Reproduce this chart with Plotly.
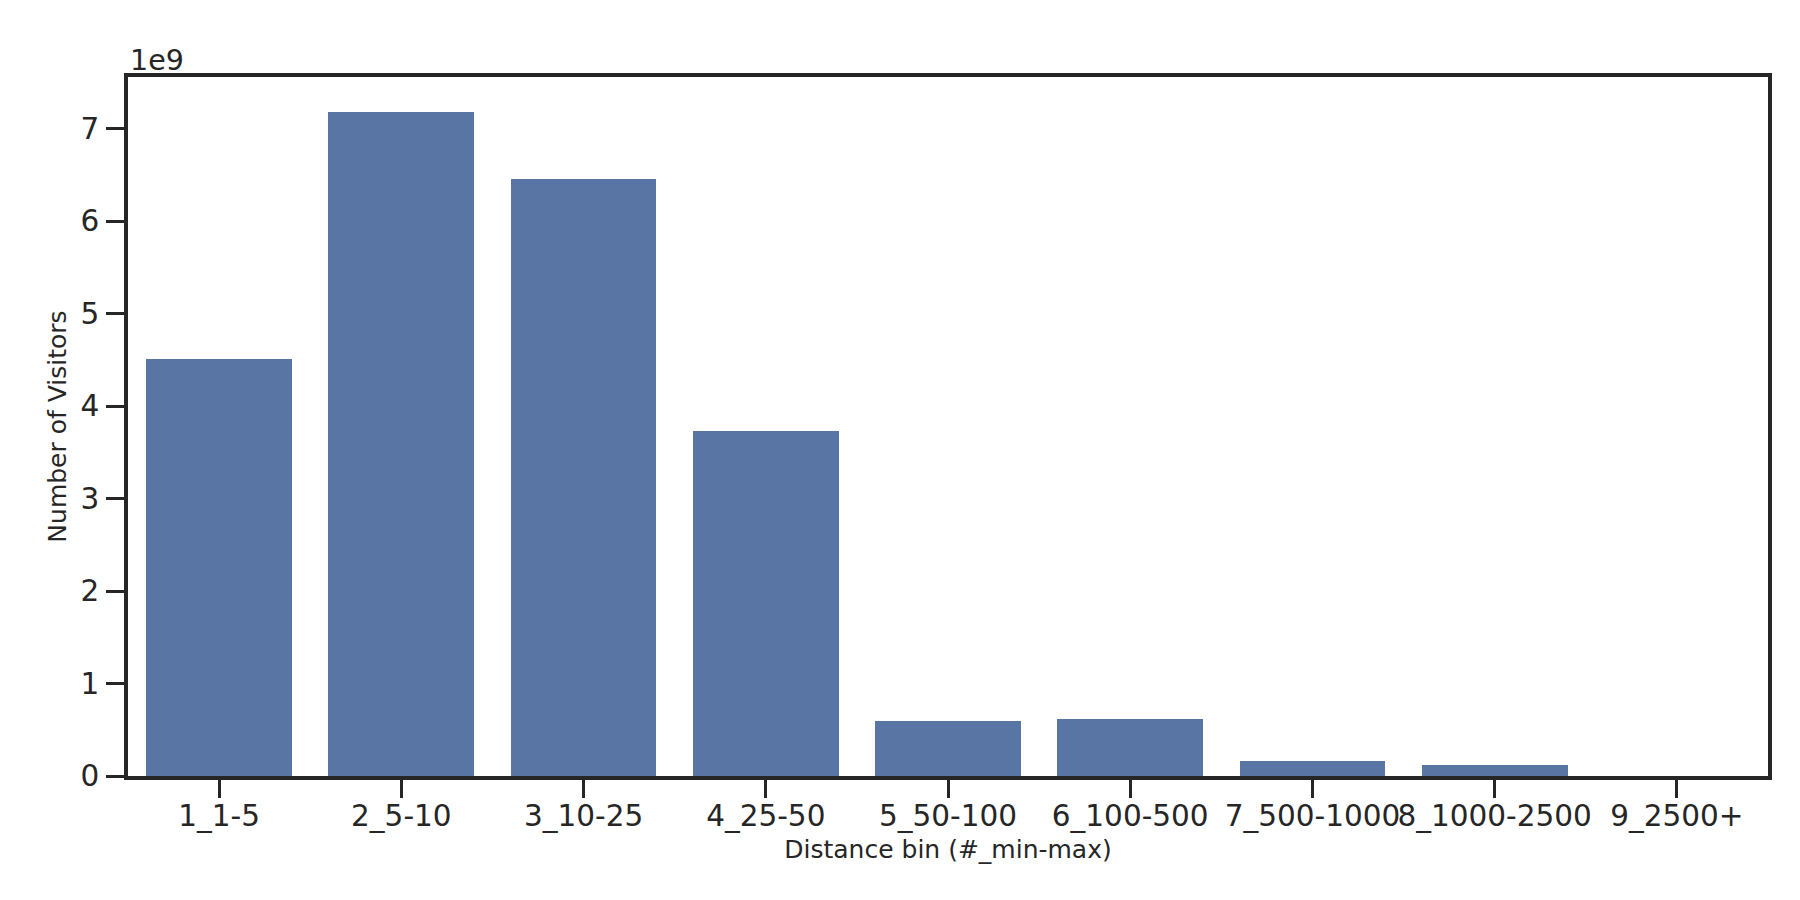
import plotly.graph_objects as go

# distance bins and visitor counts
bins = ["1_1-5", "2_5-10", "3_10-25", "4_25-50", "5_50-100",
        "6_100-500", "7_500-1000", "8_1000-2500", "9_2500+"]
visitors = [4.507e9, 7.183e9, 6.457e9, 3.727e9, 0.595e9,
            0.618e9, 0.163e9, 0.115e9, 0.0]

y_ticks = [0, 1e9, 2e9, 3e9, 4e9, 5e9, 6e9, 7e9]
y_tick_text = ["0", "1", "2", "3", "4", "5", "6", "7"]

INK = "#262626"
FONT = "DejaVu Sans"

fig = go.Figure()
fig.add_trace(go.Bar(
    x=list(range(len(bins))), y=visitors,
    width=0.8, marker_color="#5975a4", marker_line_width=0,
))

axis_common = dict(
    showline=True, linecolor=INK, linewidth=3.5, mirror=True,
    ticks="outside", ticklen=18, tickwidth=3, tickcolor=INK,
    showgrid=False, zeroline=False, automargin=False,
    tickfont=dict(family=FONT, size=29.5, color=INK),
)

fig.update_xaxes(
    range=[-0.5, 8.5], tickangle=0, ticklabelstandoff=-7,
    tickvals=list(range(len(bins))), ticktext=bins,
    title=dict(text="Distance bin (#_min-max)", standoff=9,
               font=dict(family=FONT, size=25, color=INK)),
    **axis_common,
)
fig.update_yaxes(
    range=[0, 7.557e9], ticklabelstandoff=1,
    tickvals=y_ticks, ticktext=y_tick_text,
    title=dict(text="Number of Visitors", standoff=8,
               font=dict(family=FONT, size=25, color=INK)),
    **axis_common,
)

# matplotlib-style offset text
fig.add_annotation(
    text="1e9", xref="paper", yref="paper", x=0, y=1,
    xanchor="left", yanchor="bottom", showarrow=False, yshift=-2,
    font=dict(family=FONT, size=28.5, color=INK),
)

fig.update_layout(
    width=1800, height=900,
    margin=dict(l=120, r=40, t=69, b=132),
    plot_bgcolor="white", paper_bgcolor="white",
    showlegend=False, bargap=0,
)

fig.write_html("out.html")
